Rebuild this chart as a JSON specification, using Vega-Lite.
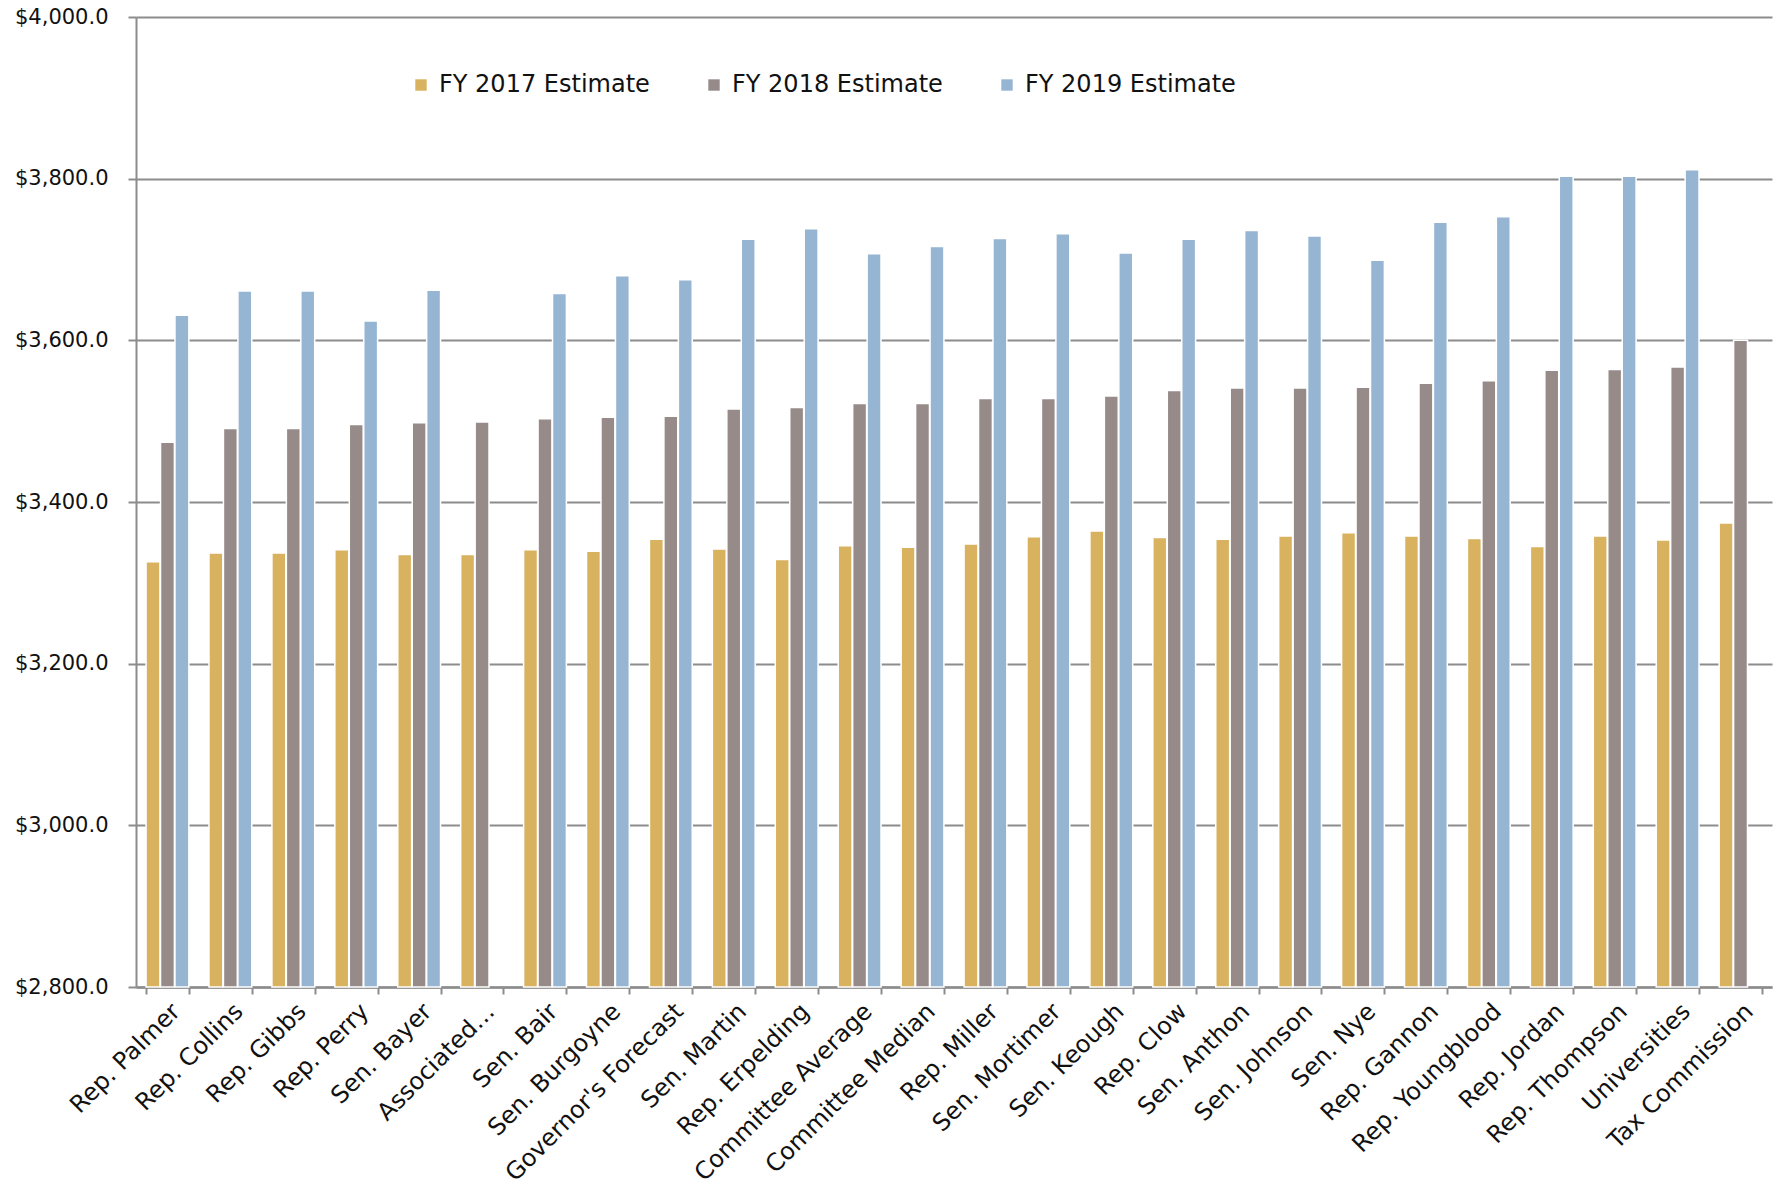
{
  "$schema": "https://vega.github.io/schema/vega-lite/v6.json",
  "autosize": "none",
  "width": 1636,
  "height": 970,
  "padding": {"left": 136, "top": 17, "right": 3, "bottom": 209},
  "background": "white",
  "datasets": {
    "est": [
      {"source": "Rep. Palmer", "series": "FY 2017 Estimate", "value": 3326},
      {"source": "Rep. Palmer", "series": "FY 2018 Estimate", "value": 3474},
      {"source": "Rep. Palmer", "series": "FY 2019 Estimate", "value": 3631},
      {"source": "Rep. Collins", "series": "FY 2017 Estimate", "value": 3337},
      {"source": "Rep. Collins", "series": "FY 2018 Estimate", "value": 3491},
      {"source": "Rep. Collins", "series": "FY 2019 Estimate", "value": 3661},
      {"source": "Rep. Gibbs", "series": "FY 2017 Estimate", "value": 3337},
      {"source": "Rep. Gibbs", "series": "FY 2018 Estimate", "value": 3491},
      {"source": "Rep. Gibbs", "series": "FY 2019 Estimate", "value": 3661},
      {"source": "Rep. Perry", "series": "FY 2017 Estimate", "value": 3341},
      {"source": "Rep. Perry", "series": "FY 2018 Estimate", "value": 3496},
      {"source": "Rep. Perry", "series": "FY 2019 Estimate", "value": 3624},
      {"source": "Sen. Bayer", "series": "FY 2017 Estimate", "value": 3335},
      {"source": "Sen. Bayer", "series": "FY 2018 Estimate", "value": 3498},
      {"source": "Sen. Bayer", "series": "FY 2019 Estimate", "value": 3662},
      {"source": "Associated…", "series": "FY 2017 Estimate", "value": 3335},
      {"source": "Associated…", "series": "FY 2018 Estimate", "value": 3499},
      {"source": "Sen. Bair", "series": "FY 2017 Estimate", "value": 3341},
      {"source": "Sen. Bair", "series": "FY 2018 Estimate", "value": 3503},
      {"source": "Sen. Bair", "series": "FY 2019 Estimate", "value": 3658},
      {"source": "Sen. Burgoyne", "series": "FY 2017 Estimate", "value": 3339},
      {"source": "Sen. Burgoyne", "series": "FY 2018 Estimate", "value": 3505},
      {"source": "Sen. Burgoyne", "series": "FY 2019 Estimate", "value": 3680},
      {"source": "Governor's Forecast", "series": "FY 2017 Estimate", "value": 3354},
      {"source": "Governor's Forecast", "series": "FY 2018 Estimate", "value": 3506},
      {"source": "Governor's Forecast", "series": "FY 2019 Estimate", "value": 3675},
      {"source": "Sen. Martin", "series": "FY 2017 Estimate", "value": 3342},
      {"source": "Sen. Martin", "series": "FY 2018 Estimate", "value": 3515},
      {"source": "Sen. Martin", "series": "FY 2019 Estimate", "value": 3725},
      {"source": "Rep. Erpelding", "series": "FY 2017 Estimate", "value": 3329},
      {"source": "Rep. Erpelding", "series": "FY 2018 Estimate", "value": 3517},
      {"source": "Rep. Erpelding", "series": "FY 2019 Estimate", "value": 3738},
      {"source": "Committee Average", "series": "FY 2017 Estimate", "value": 3346},
      {"source": "Committee Average", "series": "FY 2018 Estimate", "value": 3522},
      {"source": "Committee Average", "series": "FY 2019 Estimate", "value": 3707},
      {"source": "Committee Median", "series": "FY 2017 Estimate", "value": 3344},
      {"source": "Committee Median", "series": "FY 2018 Estimate", "value": 3522},
      {"source": "Committee Median", "series": "FY 2019 Estimate", "value": 3716},
      {"source": "Rep. Miller", "series": "FY 2017 Estimate", "value": 3348},
      {"source": "Rep. Miller", "series": "FY 2018 Estimate", "value": 3528},
      {"source": "Rep. Miller", "series": "FY 2019 Estimate", "value": 3726},
      {"source": "Sen. Mortimer", "series": "FY 2017 Estimate", "value": 3357},
      {"source": "Sen. Mortimer", "series": "FY 2018 Estimate", "value": 3528},
      {"source": "Sen. Mortimer", "series": "FY 2019 Estimate", "value": 3732},
      {"source": "Sen. Keough", "series": "FY 2017 Estimate", "value": 3364},
      {"source": "Sen. Keough", "series": "FY 2018 Estimate", "value": 3531},
      {"source": "Sen. Keough", "series": "FY 2019 Estimate", "value": 3708},
      {"source": "Rep. Clow", "series": "FY 2017 Estimate", "value": 3356},
      {"source": "Rep. Clow", "series": "FY 2018 Estimate", "value": 3538},
      {"source": "Rep. Clow", "series": "FY 2019 Estimate", "value": 3725},
      {"source": "Sen. Anthon", "series": "FY 2017 Estimate", "value": 3354},
      {"source": "Sen. Anthon", "series": "FY 2018 Estimate", "value": 3541},
      {"source": "Sen. Anthon", "series": "FY 2019 Estimate", "value": 3736},
      {"source": "Sen. Johnson", "series": "FY 2017 Estimate", "value": 3358},
      {"source": "Sen. Johnson", "series": "FY 2018 Estimate", "value": 3541},
      {"source": "Sen. Johnson", "series": "FY 2019 Estimate", "value": 3729},
      {"source": "Sen. Nye", "series": "FY 2017 Estimate", "value": 3362},
      {"source": "Sen. Nye", "series": "FY 2018 Estimate", "value": 3542},
      {"source": "Sen. Nye", "series": "FY 2019 Estimate", "value": 3699},
      {"source": "Rep. Gannon", "series": "FY 2017 Estimate", "value": 3358},
      {"source": "Rep. Gannon", "series": "FY 2018 Estimate", "value": 3547},
      {"source": "Rep. Gannon", "series": "FY 2019 Estimate", "value": 3746},
      {"source": "Rep. Youngblood", "series": "FY 2017 Estimate", "value": 3355},
      {"source": "Rep. Youngblood", "series": "FY 2018 Estimate", "value": 3550},
      {"source": "Rep. Youngblood", "series": "FY 2019 Estimate", "value": 3753},
      {"source": "Rep. Jordan", "series": "FY 2017 Estimate", "value": 3345},
      {"source": "Rep. Jordan", "series": "FY 2018 Estimate", "value": 3563},
      {"source": "Rep. Jordan", "series": "FY 2019 Estimate", "value": 3803},
      {"source": "Rep. Thompson", "series": "FY 2017 Estimate", "value": 3358},
      {"source": "Rep. Thompson", "series": "FY 2018 Estimate", "value": 3564},
      {"source": "Rep. Thompson", "series": "FY 2019 Estimate", "value": 3803},
      {"source": "Universities", "series": "FY 2017 Estimate", "value": 3353},
      {"source": "Universities", "series": "FY 2018 Estimate", "value": 3567},
      {"source": "Universities", "series": "FY 2019 Estimate", "value": 3811},
      {"source": "Tax Commission", "series": "FY 2017 Estimate", "value": 3374},
      {"source": "Tax Commission", "series": "FY 2018 Estimate", "value": 3600}
    ]
  },
  "data": {"name": "est"},
  "mark": {"type": "bar", "stroke": "white", "strokeWidth": 1.5},
  "encoding": {
    "x": {
      "field": "source",
      "type": "nominal",
      "sort": null,
      "title": null,
      "scale": {"paddingInner": 0.32, "paddingOuter": 0.16},
      "axis": {
        "labelAngle": -45,
        "labelFontSize": 24,
        "labelFont": "DejaVu Sans",
        "labelColor": "#111111",
        "labelPadding": 5,
        "labelLimit": 0,
        "labelOverlap": false,
        "tickBand": "extent",
        "tickSize": 7,
        "tickColor": "#8c8c8c",
        "tickWidth": 2,
        "domainColor": "#8c8c8c",
        "domainWidth": 2.5,
        "grid": false
      }
    },
    "xOffset": {
      "field": "series",
      "type": "nominal",
      "scale": {"paddingInner": 0.04}
    },
    "y": {
      "field": "value",
      "type": "quantitative",
      "title": null,
      "scale": {"domain": [2800, 4000], "zero": false, "nice": false},
      "axis": {
        "values": [2800, 3000, 3200, 3400, 3600, 3800, 4000],
        "format": "$,.1f",
        "labelFontSize": 21,
        "labelFont": "DejaVu Sans",
        "labelColor": "#111111",
        "labelPadding": 20,
        "tickSize": 8,
        "tickColor": "#8c8c8c",
        "tickWidth": 2,
        "domainColor": "#8c8c8c",
        "domainWidth": 2,
        "gridColor": "#8c8c8c",
        "gridWidth": 2
      }
    },
    "y2": {"datum": 2800},
    "color": {
      "field": "series",
      "type": "nominal",
      "title": null,
      "scale": {
        "domain": ["FY 2017 Estimate", "FY 2018 Estimate", "FY 2019 Estimate"],
        "range": ["#D8B25E", "#968B89", "#95B5D3"]
      },
      "legend": {
        "orient": "none",
        "direction": "horizontal",
        "legendX": 273,
        "legendY": 56,
        "symbolType": "square",
        "symbolSize": 130,
        "symbolStrokeWidth": 0,
        "labelFont": "DejaVu Sans",
        "labelFontSize": 24,
        "labelColor": "#111111",
        "labelOffset": 6,
        "labelLimit": 0,
        "columnPadding": 52
      }
    }
  },
  "config": {"view": {"stroke": null}}
}
